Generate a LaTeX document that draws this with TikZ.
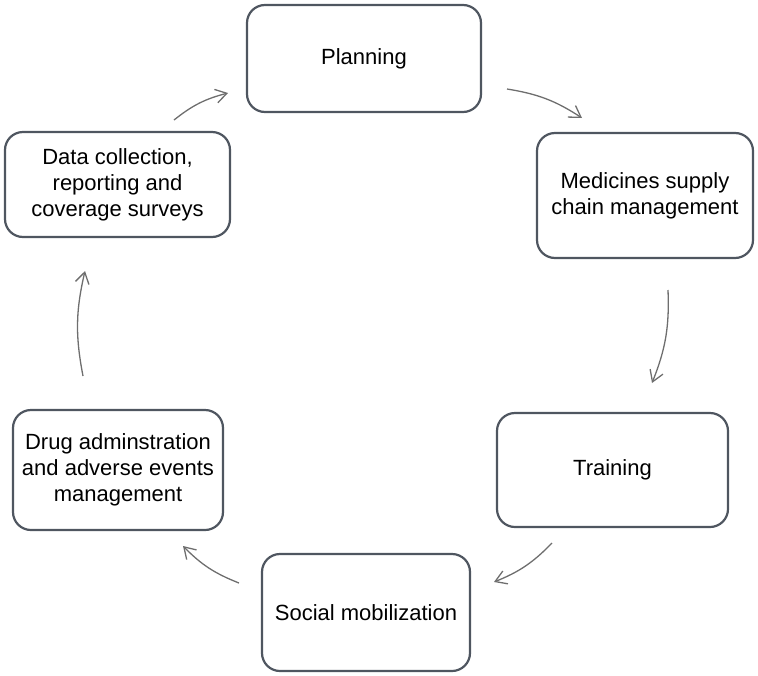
\documentclass[tikz,border=0pt]{standalone}
\usepackage{fontspec}
\setmainfont{Liberation Sans}
\usepackage{xcolor}
\usetikzlibrary{arrows.meta}
\definecolor{boxline}{HTML}{4F5660}
\definecolor{arrowline}{HTML}{6E6E6E}

\begin{document}
\begin{tikzpicture}[x=1pt, y=-1pt,
  stage/.style={rectangle, rounded corners=18pt, draw=boxline, line width=2.2pt, align=center, inner sep=0pt, font=\fontsize{22}{26}\selectfont},
  flow/.style={draw=arrowline, line width=1.3pt, -{Straight Barb[angle=64:13pt]}, bend left=12}]
\useasboundingbox (0,0) rectangle (758,675);
% the six stages, clockwise from the top
\node[stage, minimum width=234pt, minimum height=107pt] (plan) at (364,58.5) {Planning};
\node[stage, minimum width=216pt, minimum height=125pt] (med) at (645,195.5) {Medicines supply\\chain management};
\node[stage, minimum width=231pt, minimum height=114pt] (train) at (612.5,470) {Training};
\node[stage, minimum width=208pt, minimum height=117pt] (soc) at (366,612.5) {Social mobilization};
\node[stage, minimum width=210pt, minimum height=120pt] (drug) at (118,470) {Drug adminstration\\and adverse events\\management};
\node[stage, minimum width=225pt, minimum height=105pt] (data) at (117.5,184.5) {Data collection,\\reporting and\\coverage surveys};
% arrow ends, free between the boxes
\coordinate (planout) at (507,89);
\coordinate (medin) at (582,118);
\coordinate (medout) at (668,290);
\coordinate (trainin) at (652,383);
\coordinate (trainout) at (552,543);
\coordinate (socin) at (494,582);
\coordinate (socout) at (239,583);
\coordinate (drugin) at (183,546);
\coordinate (drugout) at (83,376);
\coordinate (datain) at (85,271);
\coordinate (dataout) at (174,120);
\coordinate (planin) at (228,93);
\draw[flow] (planout) to (medin);
\draw[flow] (medout) to (trainin);
\draw[flow] (trainout) to (socin);
\draw[flow] (socout) to (drugin);
\draw[flow] (drugout) to (datain);
\draw[flow] (dataout) to (planin);
\end{tikzpicture}
\end{document}
